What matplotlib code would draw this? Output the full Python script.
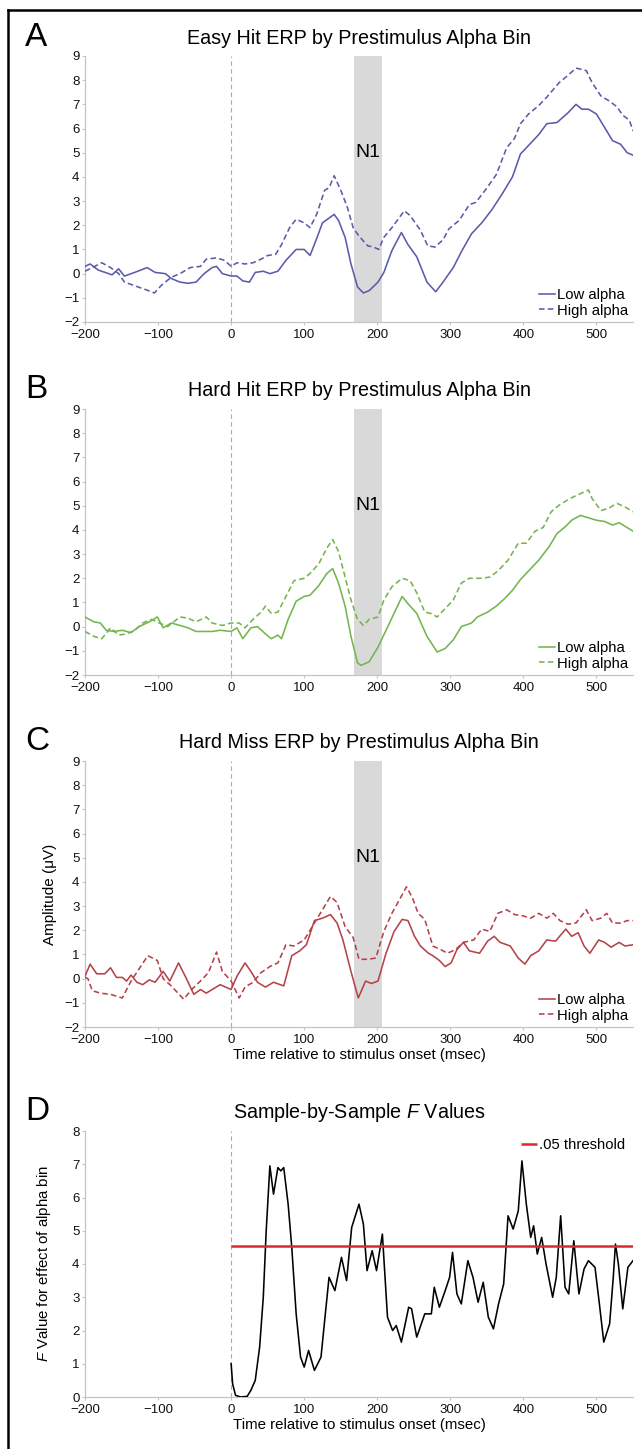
import matplotlib
matplotlib.use("Agg")
import matplotlib.pyplot as plt
from matplotlib.lines import Line2D

plt.rcParams['font.family'] = ['Liberation Sans', 'DejaVu Sans']
plt.rcParams['mathtext.fontset'] = 'custom'
plt.rcParams['mathtext.it'] = 'Liberation Sans:italic'
plt.rcParams['mathtext.rm'] = 'Liberation Sans'

# ---- data (time in msec, amplitude in microvolts) ----
x_ticks = [-200, -100, 0, 100, 200, 300, 400, 500]
n1_window = [168, 207]

easy_low_t = [-200, -193, -182, -163, -154, -146, -132, -115, -104, -90, -82, -70, -59, -48, -37,
              -26, -20, -12, 0, 8, 16, 25, 33, 44, 53, 64, 75, 89, 100, 108, 117, 125, 141, 147,
              156, 164, 173, 181, 189, 201, 209, 220, 233, 242, 254, 268, 280, 290, 304, 315, 329,
              343, 357, 371, 385, 396, 407, 421, 432, 446, 461, 472, 480, 489, 500, 511, 522, 533,
              542, 550]
easy_low_v = [0.3, 0.4, 0.15, -0.05, 0.2, -0.1, 0.05, 0.25, 0.05, 0.0, -0.2, -0.35, -0.4, -0.35, 0.0,
              0.25, 0.3, 0.0, -0.1, -0.1, -0.3, -0.35, 0.05, 0.1, 0.0, 0.1, 0.55, 1.0, 1.0, 0.75, 1.45,
              2.1, 2.45, 2.2, 1.5, 0.4, -0.55, -0.8, -0.7, -0.35, 0.05, 0.95, 1.7, 1.2, 0.7, -0.35,
              -0.75, -0.35, 0.25, 0.9, 1.65, 2.1, 2.65, 3.3, 4.0, 4.95, 5.3, 5.75, 6.2, 6.25, 6.65,
              7.0, 6.8, 6.8, 6.6, 6.05, 5.5, 5.35, 5.0, 4.9]

easy_high_t = [-200, -190, -177, -165, -154, -146, -132, -118, -105, -96, -82, -70, -56, -42, -34,
               -20, -9, 0, 8, 19, 30, 41, 50, 61, 69, 80, 89, 100, 108, 117, 128, 134, 141, 150,
               159, 167, 175, 187, 195, 202, 209, 220, 237, 245, 259, 269, 279, 290, 298, 312, 326,
               335, 349, 363, 377, 388, 396, 407, 421, 432, 449, 461, 472, 486, 494, 506, 517, 528,
               536, 545, 550]
easy_high_v = [0.1, 0.25, 0.45, 0.25, 0.0, -0.35, -0.5, -0.65, -0.8, -0.5, -0.15, 0.0, 0.25, 0.3,
               0.6, 0.65, 0.55, 0.3, 0.45, 0.4, 0.45, 0.6, 0.75, 0.8, 1.2, 1.9, 2.25, 2.1, 1.9, 2.45,
               3.45, 3.55, 4.05, 3.45, 2.75, 1.9, 1.55, 1.15, 1.1, 1.0, 1.5, 1.9, 2.6, 2.4, 1.8, 1.15,
               1.1, 1.4, 1.85, 2.2, 2.85, 2.95, 3.5, 4.1, 5.2, 5.6, 6.2, 6.6, 6.95, 7.3, 7.9, 8.2,
               8.5, 8.4, 7.9, 7.35, 7.15, 6.9, 6.55, 6.35, 5.9]

hard_low_t = [-200, -188, -179, -171, -160, -149, -137, -126, -112, -101, -93, -82, -70, -59, -48,
              -37, -26, -15, 0, 8, 16, 27, 36, 47, 55, 64, 69, 78, 89, 100, 108, 120, 131, 139, 147,
              156, 164, 173, 178, 189, 201, 212, 223, 234, 242, 254, 268, 282, 293, 304, 315, 329,
              337, 351, 363, 374, 385, 396, 407, 421, 435, 446, 458, 466, 478, 489, 500, 511, 522,
              531, 539, 550]
hard_low_v = [0.4, 0.2, 0.15, -0.15, -0.2, -0.15, -0.25, 0.0, 0.2, 0.4, -0.05, 0.15, 0.05, -0.05,
              -0.2, -0.2, -0.2, -0.15, -0.2, -0.05, -0.5, -0.05, 0.0, -0.3, -0.5, -0.35, -0.5, 0.3,
              1.05, 1.25, 1.3, 1.7, 2.2, 2.4, 1.8, 0.85, -0.4, -1.5, -1.6, -1.45, -0.85, -0.15, 0.55,
              1.25, 0.95, 0.55, -0.4, -1.05, -0.9, -0.55, 0.0, 0.15, 0.4, 0.6, 0.85, 1.15, 1.5, 1.95,
              2.3, 2.75, 3.3, 3.85, 4.15, 4.4, 4.6, 4.5, 4.4, 4.35, 4.2, 4.3, 4.15, 3.95]

hard_high_t = [-200, -188, -177, -165, -154, -143, -132, -121, -109, -98, -87, -70, -59, -48, -34,
               -26, -12, 0, 11, 19, 30, 41, 47, 55, 64, 75, 86, 100, 108, 120, 131, 139, 147, 156,
               164, 173, 181, 189, 201, 209, 220, 234, 245, 254, 265, 273, 282, 293, 304, 315, 326,
               343, 354, 365, 379, 393, 404, 416, 427, 438, 450, 464, 478, 489, 494, 506, 517, 528,
               539, 550]
hard_high_v = [-0.2, -0.4, -0.5, -0.05, -0.35, -0.3, -0.15, 0.15, 0.3, 0.15, 0.0, 0.4, 0.35, 0.2,
               0.4, 0.15, 0.05, 0.15, 0.15, -0.05, 0.3, 0.6, 0.85, 0.55, 0.6, 1.25, 1.9, 2.0, 2.2,
               2.6, 3.25, 3.6, 3.1, 2.05, 1.1, 0.3, 0.05, 0.3, 0.4, 1.1, 1.65, 2.0, 1.9, 1.4, 0.6,
               0.55, 0.4, 0.75, 1.1, 1.8, 2.0, 2.0, 2.05, 2.3, 2.75, 3.45, 3.45, 3.95, 4.1, 4.75,
               5.05, 5.3, 5.5, 5.65, 5.3, 4.8, 4.9, 5.1, 4.95, 4.75]

miss_low_t = [-200, -193, -184, -173, -165, -157, -149, -143, -137, -129, -121, -112, -104, -93,
              -84, -72, -62, -51, -42, -34, -26, -15, 0, 8, 19, 27, 36, 47, 58, 72, 83, 94, 103,
              114, 125, 136, 145, 153, 164, 174, 184, 192, 201, 212, 223, 234, 242, 251, 259, 270,
              276, 285, 293, 301, 309, 318, 326, 340, 351, 360, 368, 382, 393, 402, 410, 421, 432,
              444, 458, 466, 475, 483, 491, 503, 511, 520, 531, 539, 550]
miss_low_v = [0.1, 0.6, 0.2, 0.2, 0.45, 0.05, 0.05, -0.1, 0.15, -0.15, -0.25, -0.05, -0.15, 0.3,
              -0.1, 0.65, 0.05, -0.65, -0.45, -0.6, -0.45, -0.25, -0.45, 0.1, 0.65, 0.3, -0.15,
              -0.35, -0.15, -0.3, 0.95, 1.15, 1.4, 2.4, 2.5, 2.65, 2.3, 1.6, 0.3, -0.8, -0.1, -0.2,
              -0.1, 1.05, 1.95, 2.45, 2.4, 1.75, 1.35, 1.05, 0.95, 0.75, 0.5, 0.65, 1.2, 1.5, 1.15,
              1.05, 1.55, 1.75, 1.5, 1.35, 0.85, 0.6, 0.95, 1.15, 1.6, 1.55, 2.05, 1.75, 1.9, 1.35,
              1.05, 1.6, 1.5, 1.3, 1.5, 1.35, 1.4]

miss_high_t = [-200, -196, -190, -179, -165, -149, -137, -126, -114, -101, -93, -82, -65, -54, -42,
               -31, -20, -12, 0, 11, 19, 30, 41, 53, 64, 75, 86, 100, 111, 125, 136, 145, 156, 167,
               175, 187, 198, 209, 220, 231, 240, 248, 256, 265, 276, 287, 296, 307, 318, 332, 343,
               354, 365, 377, 388, 399, 410, 421, 432, 441, 450, 461, 472, 486, 494, 506, 514, 522,
               533, 542, 550]
miss_high_v = [0.05, 0.0, -0.5, -0.6, -0.65, -0.8, -0.1, 0.4, 0.95, 0.75, 0.0, -0.3, -0.85, -0.45,
               -0.1, 0.25, 1.1, 0.3, -0.1, -0.8, -0.35, -0.15, 0.25, 0.5, 0.65, 1.4, 1.35, 1.6, 2.15,
               2.85, 3.4, 3.15, 2.15, 1.7, 0.8, 0.8, 0.85, 1.95, 2.7, 3.3, 3.8, 3.35, 2.7, 2.45,
               1.35, 1.2, 1.05, 1.2, 1.5, 1.6, 2.05, 1.95, 2.7, 2.85, 2.65, 2.6, 2.5, 2.7, 2.5, 2.7,
               2.4, 2.25, 2.3, 2.85, 2.4, 2.5, 2.7, 2.3, 2.3, 2.4, 2.4]

f_t = [0, 2, 6, 13, 22, 27, 33, 39, 44, 48, 53, 58, 64, 68, 72, 78, 83, 89, 95, 100, 106, 114, 123,
       128, 134, 142, 151, 158, 165, 175, 181, 186, 193, 199, 207, 214, 221, 226, 233, 243, 247,
       254, 265, 274, 278, 285, 293, 299, 303, 309, 315, 324, 331, 338, 345, 352, 359, 366, 373,
       379, 386, 393, 398, 404, 410, 414, 419, 425, 431, 440, 445, 451, 457, 462, 469, 476, 483,
       489, 498, 504, 510, 518, 523, 526, 530, 536, 543, 550]
f_v = [1.0, 0.4, 0.05, 0.0, 0.02, 0.2, 0.5, 1.5, 3.0, 5.0, 6.95, 6.1, 6.9, 6.8, 6.9, 5.8, 4.5, 2.5,
       1.2, 0.9, 1.4, 0.8, 1.2, 2.3, 3.6, 3.2, 4.2, 3.5, 5.1, 5.8, 5.2, 3.8, 4.4, 3.8, 4.9, 2.4,
       2.0, 2.15, 1.65, 2.7, 2.65, 1.8, 2.5, 2.5, 3.3, 2.7, 3.2, 3.6, 4.35, 3.1, 2.8, 4.1, 3.6,
       2.85, 3.45, 2.4, 2.05, 2.8, 3.4, 5.45, 5.05, 5.6, 7.1, 5.8, 4.8, 5.15, 4.3, 4.8, 4.0, 3.0,
       3.6, 5.45, 3.3, 3.1, 4.7, 3.1, 3.85, 4.1, 3.9, 2.8, 1.65, 2.2, 3.6, 4.6, 4.0, 2.65, 3.9, 4.1]
f_threshold = 4.55

# ---- styling ----
GRID = '#c4c4c4'
BAND = '#d9d9d9'
W, H = 642, 1449
XLAB = 'Time relative to stimulus onset (msec)'


def style_axes(ax, ymin, ymax):
    ax.set_xlim(-200, 550)
    ax.set_ylim(ymin, ymax)
    ax.set_xticks(x_ticks)
    ax.set_yticks(range(ymin, ymax + 1))
    for s in ['top', 'right']:
        ax.spines[s].set_visible(False)
    for s in ['left', 'bottom']:
        ax.spines[s].set_color(GRID)
        ax.spines[s].set_linewidth(0.9)
    ax.tick_params(colors=GRID, labelcolor='#111111', labelsize=9.5, length=2.5, width=0.8)
    ax.tick_params(axis='x', pad=2.5)
    ax.tick_params(axis='y', pad=1.5)


def erp_panel(rect, letter, title, low_t, low_v, high_t, high_v, color, xlabel=False, ylabel=False):
    ax = fig.add_axes(rect)
    style_axes(ax, -2, 9)
    ax.axvspan(n1_window[0], n1_window[1], color=BAND, lw=0, zorder=0)
    ax.axvline(0, color='#aaaaaa', lw=0.8, dashes=(4, 3), zorder=1)
    ax.text(sum(n1_window) / 2, 5, 'N1', ha='center', va='center', fontsize=14)
    ax.plot(low_t, low_v, color=color, lw=1.15, label='Low alpha', zorder=3)
    ax.plot(high_t, high_v, color=color, lw=1.15, dashes=(3.5, 2), label='High alpha', zorder=3)
    ax.legend(loc='lower right', frameon=False, fontsize=10.7, handlelength=1.1,
              handletextpad=0.15, labelspacing=0.1, borderaxespad=0.2, borderpad=0.1)
    ax.set_title(title, fontsize=14.2, pad=9)
    fig.text(25 / W, rect[1] + rect[3] + 19 / H, letter, fontsize=24, va='center', ha='left')
    if xlabel:
        ax.set_xlabel(XLAB, fontsize=10.8, labelpad=1.5)
    if ylabel:
        ax.set_ylabel('Amplitude (μV)', fontsize=11)
        ax.yaxis.set_label_coords((57 - 85) / 548, 0.5)
    return ax


fig = plt.figure(figsize=(W / 100, H / 100), dpi=100)

left = 85 / W
width = (633 - 85) / W
ph = 266 / H

erp_panel([left, 1 - 322 / H, width, ph], 'A', 'Easy Hit ERP by Prestimulus Alpha Bin',
          easy_low_t, easy_low_v, easy_high_t, easy_high_v, '#5a5cab')
erp_panel([left, 1 - 675 / H, width, ph], 'B', 'Hard Hit ERP by Prestimulus Alpha Bin',
          hard_low_t, hard_low_v, hard_high_t, hard_high_v, '#74b54f')
erp_panel([left, 1 - 1027 / H, width, ph], 'C', 'Hard Miss ERP by Prestimulus Alpha Bin',
          miss_low_t, miss_low_v, miss_high_t, miss_high_v, '#b4434a', xlabel=True, ylabel=True)

# panel D: F values
rect = [left, 1 - 1397 / H, width, ph]
axd = fig.add_axes(rect)
style_axes(axd, 0, 8)
axd.axvline(0, color='#aaaaaa', lw=0.8, dashes=(4, 3), zorder=1)
axd.plot(f_t, f_v, color='black', lw=1.15, zorder=3)
axd.hlines(f_threshold, 0, 550, color='#d62c2c', lw=1.8, label='.05 threshold', zorder=4)
axd.legend(loc='upper right', frameon=False, fontsize=10.7, handlelength=1.1,
           handletextpad=0.15, borderaxespad=0.2, borderpad=0.3)
axd.set_title('Sample-by-Sample $F$ Values', fontsize=14.2, pad=9)
axd.set_xlabel(XLAB, fontsize=10.8, labelpad=1.5)
axd.set_ylabel('$F$ Value for effect of alpha bin', fontsize=10.8)
axd.yaxis.set_label_coords((53 - 85) / 548, 0.5)
fig.text(25 / W, rect[1] + rect[3] + 19 / H, 'D', fontsize=24, va='center', ha='left')

# black frame on the left and top edges
fig.add_artist(Line2D([8 / W, 8 / W], [0, 1 - 10 / H], color='black', lw=1.8,
                      transform=fig.transFigure))
fig.add_artist(Line2D([8 / W, 1], [1 - 10 / H, 1 - 10 / H], color='black', lw=1.8,
                      transform=fig.transFigure))

fig.savefig('out.png', dpi=100)
